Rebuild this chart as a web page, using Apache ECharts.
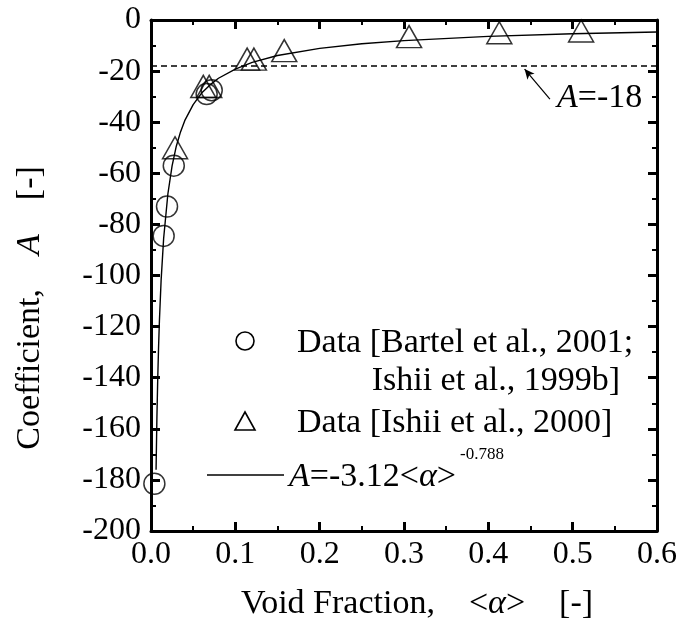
<!DOCTYPE html>
<html>
<head>
<meta charset="utf-8">
<script src="https://cdn.jsdelivr.net/npm/echarts@6/dist/echarts.min.js"></script>
<style>html,body{margin:0;padding:0;background:#fff}#c{width:683px;height:632px}</style>
</head>
<body>
<div id="c"></div>
<script>
// Data
const bartelData = [[0.004,-181.5],[0.015,-84.5],[0.019,-73],[0.027,-57],[0.066,-29],[0.072,-27.5]];
const ishiiData = [[0.0285,-50],[0.062,-26],[0.069,-26],[0.114,-15.3],[0.122,-15.3],[0.158,-12],[0.306,-6.5],[0.413,-5],[0.510,-4.3]];
// Fit curve A=-3.12<α>^-0.788, values read at these void fractions
const fitX = [0.006,0.007,0.008,0.009,0.01,0.012,0.015,0.02,0.025,0.03,0.035,0.04,0.05,0.06,0.07,0.08,0.1,0.12,0.15,0.2,0.25,0.3,0.4,0.5,0.6];
const fitA = [-176.0,-155.7,-140.1,-127.7,-117.5,-101.8,-85.4,-68.1,-57.1,-49.4,-43.8,-39.4,-33.1,-28.6,-25.4,-22.8,-19.2,-16.6,-13.9,-11.1,-9.3,-8.06,-6.42,-5.39,-4.67];
const refLineX = [0, 0.6];
const refLineA = [-18, -18];
const arrowFrom = [0.473, -31];
const arrowTo = [0.443, -19.2];
const xTicks = ['0.0','0.1','0.2','0.3','0.4','0.5','0.6'];
const yTicks = [0,-20,-40,-60,-80,-100,-120,-140,-160,-180,-200];

const FONT = 'Liberation Serif';
const FS = 32;   // tick labels
const TS = 34;   // other texts
const chart = echarts.init(document.getElementById('c'), null, {renderer:'canvas'});

function axisCommon(show) {
  return {
    axisLine: {show: true, onZero: false, lineStyle: {color: '#000', width: 3}},
    axisTick: {show: true, inside: true, length: 9, lineStyle: {color: '#000', width: 3}},
    minorTick: {show: true, splitNumber: 2, length: 5, lineStyle: {color: '#000', width: 2}},
    splitLine: {show: false},
    axisLabel: {show: show, color: '#000', fontFamily: FONT, fontSize: FS}
  };
}
function rt(size) {
  return {
    i: {fontFamily: FONT, fontSize: size, fontStyle: 'italic', fill: '#000'},
    n: {fontFamily: FONT, fontSize: size, fill: '#000'}
  };
}

const option = {
  animation: false,
  backgroundColor: '#fff',
  grid: {left: 151, right: 26, top: 20, bottom: 101, containLabel: false},
  xAxis: [
    Object.assign({type: 'value', min: 0, max: 0.6, interval: 0.1, position: 'bottom'}, axisCommon(true), {
      axisLabel: {show: true, color: '#000', fontFamily: FONT, fontSize: FS, margin: 8,
        formatter: v => xTicks[Math.round(v * 10)]}
    }),
    Object.assign({type: 'value', min: 0, max: 0.6, interval: 0.1, position: 'top'}, axisCommon(false))
  ],
  yAxis: [
    Object.assign({type: 'value', min: -200, max: 0, interval: 20, position: 'left'}, axisCommon(true), {
      axisLabel: {show: true, color: '#000', fontFamily: FONT, fontSize: FS, margin: 10,
        formatter: v => String(yTicks[Math.round(-v / 20)])}
    }),
    Object.assign({type: 'value', min: -200, max: 0, interval: 20, position: 'right'}, axisCommon(false))
  ],
  series: [
    {
      type: 'line', name: 'fit', showSymbol: false, symbol: 'none', smooth: false,
      data: fitX.map((x, i) => [x, fitA[i]]),
      lineStyle: {color: '#000', width: 1.4}, z: 2
    },
    {
      type: 'line', name: 'ref', symbol: 'none',
      data: refLineX.map((x, i) => [x, refLineA[i]]),
      lineStyle: {color: '#000', width: 1.5, type: [6, 4]}, z: 2,
      markLine: {
        silent: true, symbol: ['none', 'arrow'], symbolSize: [7, 10],
        label: {show: false},
        lineStyle: {color: '#000', width: 1.2, type: 'solid'},
        data: [[{coord: arrowFrom}, {coord: arrowTo}]]
      }
    },
    {
      type: 'scatter', name: 'bartel', symbol: 'circle', symbolSize: 21,
      data: bartelData,
      itemStyle: {color: 'rgba(0,0,0,0)', borderColor: '#000', borderWidth: 1.5}, z: 3
    },
    {
      type: 'scatter', name: 'ishii', symbol: 'triangle', symbolSize: [25, 22],
      data: ishiiData,
      itemStyle: {color: 'rgba(0,0,0,0)', borderColor: '#000', borderWidth: 1.5}, z: 3
    }
  ],
  graphic: [
    // annotation A=-18
    {type: 'text', x: 557, y: 98, style: {
      text: '{i|A}{n|=-18}', verticalAlign: 'middle', rich: rt(TS)}},
    // legend
    {type: 'circle', shape: {cx: 245, cy: 341, r: 9}, style: {fill: 'none', stroke: '#000', lineWidth: 1.6}},
    {type: 'text', x: 297, y: 343, style: {text: 'Data [Bartel et al., 2001;', fontFamily: FONT, fontSize: TS, fill: '#000', verticalAlign: 'middle'}},
    {type: 'text', x: 620, y: 381, style: {text: 'Ishii et al., 1999b]', fontFamily: FONT, fontSize: TS, fill: '#000', align: 'right', verticalAlign: 'middle'}},
    {type: 'polygon', shape: {points: [[245, 412], [235, 430], [255, 430]]}, style: {fill: 'none', stroke: '#000', lineWidth: 1.6}},
    {type: 'text', x: 297, y: 423, style: {text: 'Data [Ishii et al., 2000]', fontFamily: FONT, fontSize: TS, fill: '#000', verticalAlign: 'middle'}},
    {type: 'line', shape: {x1: 207, y1: 475, x2: 284, y2: 475}, style: {stroke: '#000', lineWidth: 1.3}},
    {type: 'text', x: 289, y: 477, style: {
      text: '{i|A}{n|=-3.12<}{i|α}{n|>}', verticalAlign: 'middle', rich: rt(TS)}},
    {type: 'text', x: 460, y: 455, style: {text: '-0.788', fontFamily: FONT, fontSize: 17, fill: '#000', verticalAlign: 'middle'}},
    // axis titles
    {type: 'text', x: 417, y: 604, style: {
      text: '{n|Void Fraction,    <}{i|α}{n|>    [-]}', align: 'center', verticalAlign: 'middle', rich: rt(TS)}},
    {type: 'text', x: 30, y: 308, rotation: Math.PI / 2, style: {
      text: '{n|Coefficient,    }{i|A}{n|    [-]}', align: 'center', verticalAlign: 'middle', rich: rt(TS)}}
  ]
};
chart.setOption(option);
</script>
</body>
</html>
